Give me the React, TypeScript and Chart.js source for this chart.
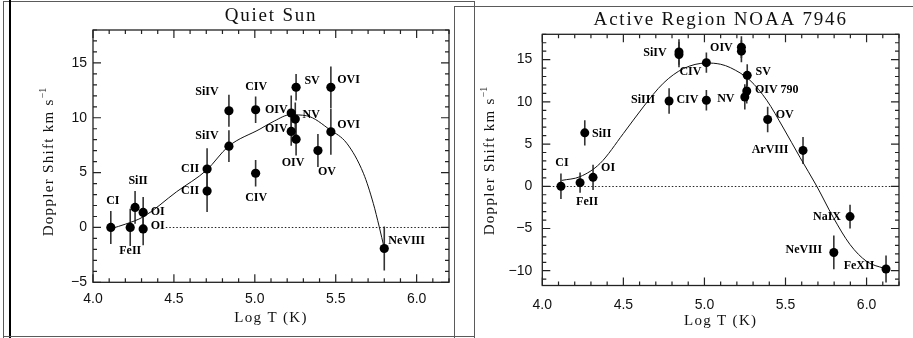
import React, { useEffect, useRef } from "react";
import { Chart, registerables } from "chart.js";
Chart.register(...registerables);

// ---------- Quiet Sun panel data ----------
const qsTitle = "Quiet Sun";
const qsIons = ["CI", "FeII", "SiII", "OI", "OI", "CII", "CII", "SiIV", "SiIV", "CIV", "CIV", "OIV", "OIV", "NV", "OIV", "SV", "OVI", "OVI", "OV", "NeVIII"];
const qsLogT = [4.11, 4.23, 4.26, 4.31, 4.31, 4.705, 4.705, 4.84, 4.84, 5.005, 5.005, 5.225, 5.225, 5.25, 5.255, 5.255, 5.47, 5.47, 5.39, 5.8];
const qsShift = [0.0, 0.0, 1.83, 1.37, -0.13, 5.33, 3.32, 10.64, 7.41, 10.73, 4.94, 10.43, 8.75, 9.88, 8.05, 12.78, 12.77, 8.72, 7.01, -1.92];
const qsErr = [1.5, 1.7, 1.5, 1.4, 1.5, 1.9, 1.9, 1.45, 1.45, 1.2, 1.2, 1.6, 1.3, 1.5, 1.5, 1.2, 1.9, 2.1, 1.5, 2.0];
const qsCurveT = [4.114, 4.2, 4.311, 4.517, 4.703, 4.836, 5.032, 5.12, 5.218, 5.32, 5.465, 5.568, 5.671, 5.732, 5.769, 5.8];
const qsCurveV = [-0.1, 0.3, 0.97, 3.26, 5.24, 7.38, 8.97, 9.7, 10.27, 10.18, 8.9, 7.68, 4.94, 2.2, 0.05, -1.9];
const qsXTicks = [4.0, 4.5, 5.0, 5.5, 6.0];
const qsYTicks = [-5, 0, 5, 10, 15];
// label placement (pixel offsets from the marker)
const qsLabelDx = [2, 0, 3, 14.5, 14.5, -17, -17, -22, -22, 0.5, 0.5, -15, -15, 16, -3, 16, 17.7, 17.7, 9, 22.3];
const qsLabelDy = [-27, 23, -26, -1, -3, 0, 0, -19, -10, -23, 25, -3, -3, -4, 24, -6, -7, -7, 21, -8];

// ---------- Active Region panel data ----------
const arTitle = "Active Region NOAA 7946";
const arIons = ["CI", "FeII", "OI", "SiII", "SiIII", "CIV", "CIV", "SiIV", "", "OIV", "", "SV", "OIV 790", "NV", "OV", "ArVIII", "NaIX", "NeVIII", "FeXII"];
const arLogT = [4.115, 4.233, 4.313, 4.262, 4.782, 5.012, 5.012, 4.843, 4.843, 5.228, 5.228, 5.264, 5.261, 5.249, 5.39, 5.608, 5.898, 5.798, 6.12];
const arShift = [0.0, 0.43, 1.06, 6.33, 10.1, 10.19, 14.64, 15.9, 15.6, 16.48, 16.0, 13.14, 11.29, 10.58, 7.91, 4.25, -3.59, -7.84, -9.8];
const arErr = [1.5, 1.2, 1.5, 1.5, 1.5, 1.2, 1.2, 1.5, 1.5, 1.3, 1.3, 1.3, 1.5, 1.5, 1.5, 1.6, 1.4, 2.0, 1.6];
const arCurveT = [4.12, 4.233, 4.356, 4.5, 4.623, 4.746, 4.87, 5.014, 5.1, 5.16, 5.281, 5.384, 5.487, 5.59, 5.693, 5.795, 5.898, 6.001, 6.104, 6.12];
const arCurveV = [0.7, 1.14, 2.7, 6.25, 9.4, 12.2, 13.93, 14.6, 14.45, 14.05, 12.55, 10.2, 6.9, 3.4, 0.0, -3.7, -6.9, -8.9, -9.68, -9.75];
const arXTicks = [4.0, 4.5, 5.0, 5.5, 6.0];
const arYTicks = [-10, -5, 0, 5, 10, 15];
const arLabelDx = [1, 7, 15, 17, -26, -19, -16, -24, 0, -20, 0, 16, 30, -19, 17, -33, -23, -30, -27];
const arLabelDy = [-23, 19, -9, 1, -1, 0, 9, 1, 0, 1, 0, -3, -1, 2, -5, 0, 0, -3, -3];

const xTitle = "Log T (K)";
const yTitleMain = "Doppler Shift km s";
const yTitleSup = "\u22121";

const serif = '"Liberation Serif"';

type Panel = {
  title: string;
  titleY: number;
  ions: string[];
  logT: number[];
  shift: number[];
  err: number[];
  curveT: number[];
  curveV: number[];
  xTicks: number[];
  yTicks: number[];
  labelDx: number[];
  labelDy: number[];
  xMin: number;
  xMax: number;
  yMin: number;
  yMax: number;
  zeroStart: number;
  padTop: number;
  padRight: number;
  yWidth: number;
  xHeight: number;
  yTickPad: number;
  xTickPad: number;
  yTitleX: number;
  yTitleY: number;
  xTitleY: number;
  radius: number;
};

const qsPanel: Panel = {
  title: qsTitle, titleY: 16, ions: qsIons, logT: qsLogT, shift: qsShift, err: qsErr,
  curveT: qsCurveT, curveV: qsCurveV, xTicks: qsXTicks, yTicks: qsYTicks,
  labelDx: qsLabelDx, labelDy: qsLabelDy,
  xMin: 4.0, xMax: 6.2, yMin: -5, yMax: 18, zeroStart: 4.45,
  padTop: 30, padRight: 25, yWidth: 93, xHeight: 55.7,
  yTickPad: 6, xTickPad: 8, yTitleX: 49, yTitleY: 162, xTitleY: 318, radius: 4.6,
};

const arPanel: Panel = {
  title: arTitle, titleY: 20, ions: arIons, logT: arLogT, shift: arShift, err: arErr,
  curveT: arCurveT, curveV: arCurveV, xTicks: arXTicks, yTicks: arYTicks,
  labelDx: arLabelDx, labelDy: arLabelDy,
  xMin: 4.0, xMax: 6.2, yMin: -11.75, yMax: 18, zeroStart: 4.0,
  padTop: 34.3, padRight: 14, yWidth: 87.3, xHeight: 52.5,
  yTickPad: 10, xTickPad: 11, yTitleX: 35, yTitleY: 161, xTitleY: 321.5, radius: 4.5,
};

function fmtY(v: number) {
  return v < 0 ? "\u2212" + String(Math.abs(v)) : String(v);
}

function makePanel(canvas: HTMLCanvasElement, p: Panel) {
  const plugin = {
    id: "idlPanel",
    beforeDatasetsDraw(chart: any) {
      const { ctx, chartArea: a, scales } = chart;
      const xs = scales.x, ys = scales.y;
      ctx.save();
      ctx.beginPath();
      ctx.rect(a.left, a.top, a.right - a.left, a.bottom - a.top);
      ctx.clip();
      // dotted zero line
      ctx.strokeStyle = "#222";
      ctx.lineWidth = 1;
      ctx.setLineDash([1.5, 2]);
      ctx.beginPath();
      const y0 = Math.round(ys.getPixelForValue(0)) + 0.5;
      ctx.moveTo(xs.getPixelForValue(p.zeroStart), y0);
      ctx.lineTo(a.right, y0);
      ctx.stroke();
      ctx.setLineDash([]);
      // error bars
      ctx.strokeStyle = "#333";
      ctx.lineWidth = 1.6;
      for (let i = 0; i < p.logT.length; i++) {
        const px = xs.getPixelForValue(p.logT[i]);
        ctx.beginPath();
        ctx.moveTo(px, ys.getPixelForValue(p.shift[i] - p.err[i]));
        ctx.lineTo(px, ys.getPixelForValue(p.shift[i] + p.err[i]));
        ctx.stroke();
      }
      ctx.restore();
    },
    afterDatasetsDraw(chart: any) {
      const { ctx, scales } = chart;
      const xs = scales.x, ys = scales.y;
      ctx.save();
      ctx.fillStyle = "#000";
      ctx.font = "bold 12px " + serif;
      ctx.textAlign = "center";
      ctx.textBaseline = "middle";
      for (let i = 0; i < p.ions.length; i++) {
        if (!p.ions[i]) continue;
        const px = xs.getPixelForValue(p.logT[i]) + p.labelDx[i];
        const py = ys.getPixelForValue(p.shift[i]) + p.labelDy[i];
        ctx.fillText(p.ions[i], px, py);
      }
      ctx.restore();
    },
    afterDraw(chart: any) {
      const { ctx, chartArea: a, scales } = chart;
      const xs = scales.x, ys = scales.y;
      ctx.save();
      ctx.strokeStyle = "#222";
      ctx.lineWidth = 1.3;
      ctx.strokeRect(a.left, a.top, a.right - a.left, a.bottom - a.top);
      ctx.lineWidth = 1.2;
      const major = 8, minor = 4;
      // x ticks (top & bottom), minor every 0.1
      for (let k = Math.ceil(p.xMin * 10 - 1e-6); k <= Math.floor(p.xMax * 10 + 1e-6); k++) {
        const isMajor = k % 5 === 0;
        const len = isMajor ? major : minor;
        const px = xs.getPixelForValue(k / 10);
        ctx.beginPath();
        ctx.moveTo(px, a.bottom);
        ctx.lineTo(px, a.bottom - len);
        ctx.moveTo(px, a.top);
        ctx.lineTo(px, a.top + len);
        ctx.stroke();
      }
      // y ticks (left & right), minor every 1
      for (let k = Math.ceil(p.yMin - 1e-6); k <= Math.floor(p.yMax + 1e-6); k++) {
        const isMajor = k % 5 === 0;
        const len = isMajor ? major : minor;
        const py = ys.getPixelForValue(k);
        ctx.beginPath();
        ctx.moveTo(a.left, py);
        ctx.lineTo(a.left + len, py);
        ctx.moveTo(a.right, py);
        ctx.lineTo(a.right - len, py);
        ctx.stroke();
      }
      ctx.fillStyle = "#111";
      ctx.textBaseline = "middle";
      // panel title
      (ctx as any).letterSpacing = "1.8px";
      ctx.font = "19px " + serif;
      ctx.textAlign = "center";
      ctx.fillText(p.title, (a.left + a.right) / 2, p.titleY);
      // x axis title
      (ctx as any).letterSpacing = "1.3px";
      ctx.font = "15px " + serif;
      ctx.fillText(xTitle, (a.left + a.right) / 2, p.xTitleY);
      // y axis title with superscript
      ctx.save();
      ctx.translate(p.yTitleX, p.yTitleY);
      ctx.rotate(-Math.PI / 2);
      ctx.font = "15px " + serif;
      const w1 = ctx.measureText(yTitleMain).width;
      ctx.font = "10px " + serif;
      (ctx as any).letterSpacing = "0px";
      const w2 = ctx.measureText(yTitleSup).width;
      const x0 = -(w1 + w2) / 2;
      ctx.textAlign = "left";
      (ctx as any).letterSpacing = "1.3px";
      ctx.font = "15px " + serif;
      ctx.fillText(yTitleMain, x0, 0);
      (ctx as any).letterSpacing = "0px";
      ctx.font = "10px " + serif;
      ctx.fillText(yTitleSup, x0 + w1, -6);
      ctx.restore();
      ctx.restore();
    },
  };

  return new Chart(canvas, {
    type: "scatter",
    data: {
      datasets: [
        {
          type: "line",
          data: p.curveT.map((t, i) => ({ x: t, y: p.curveV[i] })),
          borderColor: "#111",
          borderWidth: 1,
          pointRadius: 0,
          cubicInterpolationMode: "monotone",
          fill: false,
          order: 2,
        } as any,
        {
          type: "scatter",
          data: p.logT.map((t, i) => ({ x: t, y: p.shift[i] })),
          backgroundColor: "#000",
          borderWidth: 0,
          pointRadius: p.radius,
          pointHoverRadius: p.radius,
          order: 1,
        } as any,
      ],
    },
    options: {
      animation: false,
      responsive: false,
      devicePixelRatio: 1,
      events: [],
      layout: { padding: { left: 0, top: p.padTop, right: p.padRight, bottom: 0 } },
      plugins: { legend: { display: false }, tooltip: { enabled: false }, title: { display: false } },
      scales: {
        x: {
          type: "linear",
          min: p.xMin,
          max: p.xMax,
          grid: { display: false, drawTicks: false },
          border: { display: false },
          ticks: {
            color: "#111",
            font: { family: "Liberation Sans", size: 14 },
            padding: p.xTickPad,
            maxRotation: 0,
            autoSkip: false,
            callback: (v: any) => Number(v).toFixed(1),
          },
          afterBuildTicks: (s: any) => {
            s.ticks = p.xTicks.map((v) => ({ value: v }));
          },
          afterFit: (s: any) => {
            s.height = p.xHeight;
          },
          title: { display: false },
        },
        y: {
          type: "linear",
          min: p.yMin,
          max: p.yMax,
          grid: { display: false, drawTicks: false },
          border: { display: false },
          ticks: {
            color: "#111",
            font: { family: "Liberation Sans", size: 14 },
            padding: p.yTickPad,
            autoSkip: false,
            callback: (v: any) => fmtY(Number(v)),
          },
          afterBuildTicks: (s: any) => {
            s.ticks = p.yTicks.map((v) => ({ value: v }));
          },
          afterFit: (s: any) => {
            s.width = p.yWidth;
          },
          title: { display: false },
        },
      },
    } as any,
    plugins: [plugin as any],
  });
}

const lineCol = "#5a5a5a";

export default function App() {
  const leftRef = useRef<HTMLCanvasElement>(null);
  const rightRef = useRef<HTMLCanvasElement>(null);
  useEffect(() => {
    const c1 = makePanel(leftRef.current!, qsPanel);
    const c2 = makePanel(rightRef.current!, arPanel);
    return () => {
      c1.destroy();
      c2.destroy();
    };
  }, []);
  const abs = (s: React.CSSProperties): React.CSSProperties => ({ position: "absolute", ...s });
  return (
    <div style={{ position: "fixed", left: 0, top: 0, width: 913, height: 338, background: "#fff", overflow: "hidden" }}>
      <canvas ref={leftRef} width={474} height={338} style={abs({ left: 0, top: 0, width: 474, height: 338 })} />
      <canvas ref={rightRef} width={458} height={338} style={abs({ left: 455, top: 0, width: 458, height: 338 })} />
      {/* left panel frame */}
      <div style={abs({ left: 3, top: 1, width: 472, height: 1, background: lineCol })} />
      <div style={abs({ left: 3, top: 1, width: 1, height: 337, background: lineCol })} />
      <div style={abs({ left: 9, top: 0, width: 2, height: 338, background: "#000" })} />
      <div style={abs({ left: 474, top: 1, width: 1, height: 337, background: lineCol })} />
      <div style={abs({ left: 3, top: 336, width: 472, height: 1, background: lineCol })} />
      {/* right panel frame */}
      <div style={abs({ left: 454, top: 6, width: 459, height: 1, background: lineCol })} />
      <div style={abs({ left: 454, top: 6, width: 1, height: 332, background: lineCol })} />
    </div>
  );
}
